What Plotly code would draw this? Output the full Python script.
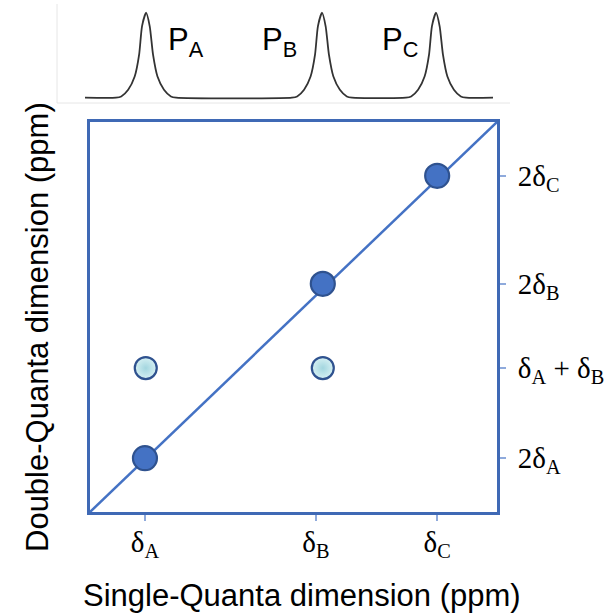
import plotly.graph_objects as go

# ---------------- data ----------------
axis_range = [0, 100]
x_tick_vals = [13.5, 55.5, 85.3]
x_tick_text = ["δ<sub>A</sub>", "δ<sub>B</sub>", "δ<sub>C</sub>"]
y_tick_vals = [13.8, 36.9, 58.5, 86.2]
y_tick_text = ["2δ<sub>A</sub>", "δ<sub>A</sub> + δ<sub>B</sub>", "2δ<sub>B</sub>", "2δ<sub>C</sub>"]

diag_x = [13.5, 57.2, 85.3]
diag_y = [13.8, 58.5, 86.2]
cross_x = [13.7, 57.2]
cross_y = [36.9, 36.9]

peak_centers = [13.8, 57.0, 85.0]
peak_labels = ["P<sub>A</sub>", "P<sub>B</sub>", "P<sub>C</sub>"]
profile_dx = [-7.4, -6.1, -4.4, -2.8, -1.7, -1.0, 0.0, 0.9, 1.7, 2.8, 4.4, 6.1, 7.4]
profile_h = [0.0, 0.015, 0.094, 0.25, 0.51, 0.84, 1.0, 0.84, 0.51, 0.25, 0.094, 0.015, 0.0]
spec_start, spec_end = -1.2, 99.0

# build spectrum trace from peak profile
sx, sy = [spec_start], [0.0]
for c in peak_centers:
    for dx, h in zip(profile_dx, profile_h):
        sx.append(c + dx)
        sy.append(h)
sx.append(spec_end)
sy.append(0.0)

# ---------------- geometry helpers ----------------
W, H = 613, 614
ML, MR, MT, MB = 80, 110, 4, 102
PW, PH = W - ML - MR, H - MT - MB


def px(x):
    return (x - ML) / PW


def py(y):
    return (H - MB - y) / PH


BLUE = "#4472C4"
DARK = "#2F528F"
TICK = "#8FAADC"

fig = go.Figure()

fig.add_trace(go.Scatter(x=axis_range, y=axis_range, mode="lines",
                         line=dict(color=BLUE, width=2.5),
                         xaxis="x", yaxis="y", hoverinfo="skip"))
fig.add_trace(go.Scatter(x=cross_x, y=cross_y, mode="markers",
                         marker=dict(size=22, color="#D6F0F3",
                                     gradient=dict(type="radial", color="#A3D6DF"),
                                     line=dict(color=DARK, width=2.2)),
                         xaxis="x", yaxis="y"))
fig.add_trace(go.Scatter(x=diag_x, y=diag_y, mode="markers",
                         marker=dict(size=24, color=BLUE,
                                     line=dict(color=DARK, width=2.2)),
                         xaxis="x", yaxis="y"))
fig.add_trace(go.Scatter(x=sx, y=sy, mode="lines",
                         line=dict(color="#333333", width=1.8, shape="spline", smoothing=0.6),
                         xaxis="x2", yaxis="y2", hoverinfo="skip"))

serif = dict(family="Liberation Serif, Times New Roman, serif", size=29, color="black")

fig.update_layout(
    width=W, height=H,
    margin=dict(l=ML, r=MR, t=MT, b=MB),
    paper_bgcolor="white", plot_bgcolor="white",
    showlegend=False,
    xaxis=dict(domain=[px(90), px(497)], range=axis_range, anchor="y",
               showgrid=False, zeroline=False, automargin=False,
               showline=True, linecolor="#3F69B5", linewidth=3, mirror=True,
               ticks="outside", ticklen=6, tickwidth=1.5, tickcolor=TICK,
               tickvals=x_tick_vals, ticktext=x_tick_text, tickfont=serif,
               ticklabelstandoff=-4),
    yaxis=dict(domain=[0, py(122)], range=axis_range, anchor="x", side="right",
               showgrid=False, zeroline=False, automargin=False,
               showline=True, linecolor="#3F69B5", linewidth=3, mirror=True,
               ticks="outside", ticklen=6, tickwidth=1.5, tickcolor=TICK,
               tickvals=y_tick_vals, ticktext=y_tick_text, tickfont=serif,
               ticklabelstandoff=6),
    xaxis2=dict(domain=[px(85), px(493)], range=[spec_start, spec_end], anchor="y2",
                visible=False, automargin=False),
    yaxis2=dict(domain=[py(100), py(10)], range=[-0.027, 1.032], anchor="x2",
                visible=False, automargin=False),
)

sans = dict(family="Liberation Sans, Arial, Helvetica, sans-serif", color="black")

fig.add_annotation(text="Single-Quanta dimension (ppm)", xref="paper", yref="paper",
                   x=px(302), y=py(595), xanchor="center", yanchor="middle",
                   showarrow=False, font=dict(size=31, **sans))
fig.add_annotation(text="Double-Quanta dimension (ppm)", xref="paper", yref="paper",
                   x=px(37), y=py(327), xanchor="center", yanchor="middle",
                   textangle=-90, showarrow=False, font=dict(size=31, **sans))

label_left_px = [166, 260, 380]
for lbl, lx in zip(peak_labels, label_left_px):
    fig.add_annotation(text=lbl, xref="paper", yref="paper",
                       x=px(lx), y=py(42), xanchor="left", yanchor="middle",
                       showarrow=False, font=dict(size=31, **sans))

# faint frame around the 1D spectrum image
fig.add_shape(type="line", xref="paper", yref="paper",
              x0=px(57), x1=px(57), y0=py(103), y1=py(4),
              line=dict(color="#E6E6E6", width=1))
fig.add_shape(type="line", xref="paper", yref="paper",
              x0=px(57), x1=px(510), y0=py(103), y1=py(103),
              line=dict(color="#E6E6E6", width=1))

fig.write_html("out.html", config={"displayModeBar": False},
               post_script="document.body.style.margin='0';document.body.style.overflow='hidden';")
